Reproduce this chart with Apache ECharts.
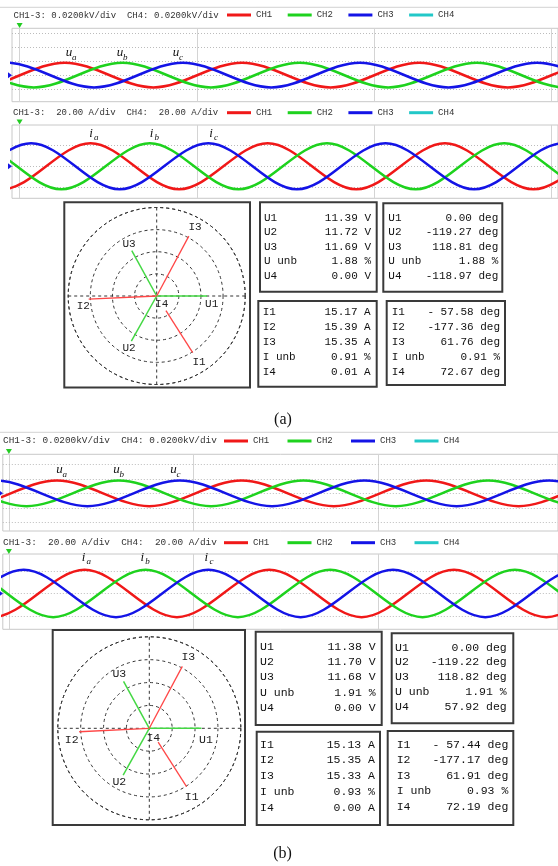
<!DOCTYPE html>
<html>
<head>
<meta charset="utf-8">
<script src="https://cdn.jsdelivr.net/npm/echarts@6/dist/echarts.min.js"></script>
<style>
html, body { margin: 0; padding: 0; background: #fff; }
#main { width: 558px; height: 866px; }
</style>
</head>
<body>
<div id="main"></div>
<script>
// time in ms (one vertical division = 20 ms), voltage in V, current in A
// waveforms are given by their peaks/troughs

// (a) voltage
const uaA = [[-14.9, 17.8], [-4.9, -17.8], [5.1, 17.8], [15.1, -17.8], [25.1, 17.8], [35.1, -17.8], [45.1, 17.8], [55.1, -17.8], [65.1, 17.8], [75.1, -17.8]];
const ubA = [[-18.4, -17.8], [-8.4, 17.8], [1.6, -17.8], [11.6, 17.8], [21.6, -17.8], [31.6, 17.8], [41.6, -17.8], [51.6, 17.8], [61.6, -17.8], [71.6, 17.8]];
const ucA = [[-11.6, -17.8], [-1.6, 17.8], [8.4, -17.8], [18.4, 17.8], [28.4, -17.8], [38.4, 17.8], [48.4, -17.8], [58.4, 17.8], [68.4, -17.8], [78.4, 17.8]];
// (a) current
const iaA = [[-12, 21.5], [-2, -21.5], [8, 21.5], [18, -21.5], [28, 21.5], [38, -21.5], [48, 21.5], [58, -21.5], [68, 21.5], [78, -21.5]];
const ibA = [[-15.3, -21.5], [-5.3, 21.5], [4.7, -21.5], [14.7, 21.5], [24.7, -21.5], [34.7, 21.5], [44.7, -21.5], [54.7, 21.5], [64.7, -21.5], [74.7, 21.5]];
const icA = [[-18.7, 21.5], [-8.7, -21.5], [1.3, 21.5], [11.3, -21.5], [21.3, 21.5], [31.3, -21.5], [41.3, 21.5], [51.3, -21.5], [61.3, 21.5], [71.3, -21.5]];
// (b) voltage
const uaB = [[-14.8, 17.7], [-4.8, -17.7], [5.2, 17.7], [15.2, -17.7], [25.2, 17.7], [35.2, -17.7], [45.2, 17.7], [55.2, -17.7], [65.2, 17.7], [75.2, -17.7]];
const ubB = [[-18.1, -17.7], [-8.1, 17.7], [1.9, -17.7], [11.9, 17.7], [21.9, -17.7], [31.9, 17.7], [41.9, -17.7], [51.9, 17.7], [61.9, -17.7], [71.9, 17.7]];
const ucB = [[-11.5, -17.7], [-1.5, 17.7], [8.5, -17.7], [18.5, 17.7], [28.5, -17.7], [38.5, 17.7], [48.5, -17.7], [58.5, 17.7], [68.5, -17.7], [78.5, 17.7]];
// (b) current
const iaB = [[-11.8, 21.2], [-1.8, -21.2], [8.2, 21.2], [18.2, -21.2], [28.2, 21.2], [38.2, -21.2], [48.2, 21.2], [58.2, -21.2], [68.2, 21.2], [78.2, -21.2]];
const ibB = [[-15.2, -21.2], [-5.2, 21.2], [4.8, -21.2], [14.8, 21.2], [24.8, -21.2], [34.8, 21.2], [44.8, -21.2], [54.8, 21.2], [64.8, -21.2], [74.8, 21.2]];
const icB = [[-18.4, 21.2], [-8.4, -21.2], [1.6, 21.2], [11.6, -21.2], [21.6, 21.2], [31.6, -21.2], [41.6, 21.2], [51.6, -21.2], [61.6, 21.2], [71.6, -21.2]];

const channels = ['CH1', 'CH2', 'CH3', 'CH4'];
const voltTitle = 'CH1-3: 0.0200kV/div  CH4: 0.0200kV/div';
const currTitle = 'CH1-3:  20.00 A/div  CH4:  20.00 A/div';
const timeDivs = [0, 20, 40, 60];
const voltDivs = [-40, -20, 0, 20, 40, 60];
const currDivs = [-20, 0, 20];

// phasor / table values
const uRows = ['U1', 'U2', 'U3', 'U unb', 'U4'];
const iRows = ['I1', 'I2', 'I3', 'I unb', 'I4'];

const aUrms = [11.39, 11.72, 11.69];
const aUang = [0.00, -119.27, 118.81];
const aUunb = 1.88, aU4rms = 0.00, aU4ang = -118.97;
const aIrms = [15.17, 15.39, 15.35];
const aIang = [-57.58, -177.36, 61.76];
const aIunb = 0.91, aI4rms = 0.01, aI4ang = 72.67;
const aIstart = [3.9, 0, 0];   // I1 is only drawn from a small radius outwards

const bUrms = [11.38, 11.70, 11.68];
const bUang = [0.00, -119.22, 118.82];
const bUunb = 1.91, bU4rms = 0.00, bU4ang = 57.92;
const bIrms = [15.13, 15.35, 15.33];
const bIang = [-57.44, -177.17, 61.91];
const bIunb = 0.93, bI4rms = 0.00, bI4ang = 72.19;
const bIstart = [3.6, 0, 0];

const RED = '#f01818', GREEN = '#1ed21e', BLUE = '#1414e6', CYAN = '#22c8c8';
const MONO = '"Liberation Mono", "DejaVu Sans Mono", monospace';
const SERIF = '"Liberation Serif", "DejaVu Serif", serif';

const chart = echarts.init(document.getElementById('main'));

function wave(name, data, color, idx, marks) {
    const s = {
        name: name, type: 'line', xAxisIndex: idx, yAxisIndex: idx,
        data: data, smooth: 0.333, symbol: 'none', silent: true, z: 3,
        itemStyle: { color: color }, lineStyle: { color: color, width: 2.5 }
    };
    if (marks) {
        s.markLine = {
            silent: true, symbol: ['none', 'none'], label: { show: false }, z: 1, animation: false,
            data: marks[0].map(t => ({ xAxis: t, lineStyle: { color: '#d4d4d4', type: 'solid', width: 1 } }))
                .concat(marks[1].map(v => ({ yAxis: v, lineStyle: { color: '#bcbcbc', type: [1, 2], width: 1 } })))
        };
    }
    return s;
}

function deg(v) {
    return (v < 0 ? '-' + Math.abs(v).toFixed(2).padStart(6, ' ') : v.toFixed(2)) + ' deg';
}

function phasors(pi, Urms, Uang, Irms, Iang, Istart) {
    const out = [];
    for (let k = 0; k < 3; k++) {
        out.push({ name: uRows[k], type: 'line', coordinateSystem: 'polar', polarIndex: pi, symbol: 'none', silent: true, z: 4,
            data: [[0, Uang[k]], [Urms[k], Uang[k]]], lineStyle: { color: '#44d844', width: 1.5 } });
        out.push({ name: iRows[k], type: 'line', coordinateSystem: 'polar', polarIndex: pi, symbol: 'none', silent: true, z: 4,
            data: [[Istart[k], Iang[k]], [Irms[k], Iang[k]]], lineStyle: { color: '#ff4646', width: 1.3 } });
    }
    return out;
}

// ---- graphic helpers ----
const g = [];
function text(x, y, str, font, align, color) {
    g.push({ type: 'text', silent: true, z: 10,
        style: { x: x, y: y, text: str, font: font, fill: color || '#222', textAlign: align || 'left', textVerticalAlign: 'middle' } });
}
function box(x0, y0, x1, y1) {
    g.push({ type: 'rect', silent: true, z: 10, shape: { x: x0, y: y0, width: x1 - x0, height: y1 - y0 },
        style: { fill: 'transparent', stroke: '#3a3a3a', lineWidth: 2 } });
}
function hline(y, color) {
    g.push({ type: 'line', silent: true, z: 10, shape: { x1: 0, y1: y, x2: 558, y2: y }, style: { stroke: color, lineWidth: 1 } });
}
function trigger(x, y) {   // green trigger marker above a trace box
    g.push({ type: 'polygon', silent: true, z: 10, shape: { points: [[x - 3, y - 4], [x + 3, y - 4], [x, y + 1]] }, style: { fill: '#22cc22' } });
}
function zeroMark(x, y) {  // blue channel zero marker at the left edge
    g.push({ type: 'polygon', silent: true, z: 10, shape: { points: [[x - 4, y - 3], [x - 4, y + 3], [x, y]] }, style: { fill: BLUE } });
}
function traceLabel(letter, sub, x, y) {
    text(x, y, letter, 'italic 13px ' + SERIF, 'center', '#111');
    text(x + 3, y + 4.5, sub, 'italic 9px ' + SERIF, 'left', '#111');
}
function table(x0, y0, x1, y1, lx, rx, ry, step, labels, values, fs) {
    box(x0, y0, x1, y1);
    for (let k = 0; k < labels.length; k++) {
        text(lx, ry + k * step, labels[k], fs + 'px ' + MONO, 'left', '#111');
        text(rx, ry + k * step, values[k], fs + 'px ' + MONO, 'right', '#111');
    }
}

// ---- panel (a) ----
hline(7.3, '#d2d2d2');
text(13.5, 15.5, voltTitle, '9px ' + MONO, 'left', '#333');
text(13, 113, currTitle, '9px ' + MONO, 'left', '#333');
trigger(19.6, 27); trigger(19.6, 123.5);
zeroMark(12, 75.2); zeroMark(12, 166.3);
['a', 'b', 'c'].forEach((s, k) => traceLabel('u', s, [69, 120, 176][k], 53));
['a', 'b', 'c'].forEach((s, k) => traceLabel('i', s, [91, 151.5, 211][k], 133.5));

box(64.3, 202.3, 250, 387.5);
[['I3', 195, 226.7], ['U3', 129, 244.3], ['I2', 83.3, 306], ['I4', 161.7, 304.3], ['U1', 211.7, 304.3], ['U2', 129, 347.7], ['I1', 199, 362.3]]
    .forEach(l => text(l[1], l[2], l[0], '11px ' + MONO, 'center', '#222'));

table(260, 202.3, 376.7, 291.7, 264, 371, 217.7, 14.6, uRows,
    aUrms.map(v => v.toFixed(2) + ' V').concat([aUunb.toFixed(2) + ' %', aU4rms.toFixed(2) + ' V']), 11);
table(383.3, 203.3, 502.3, 291.7, 388.3, 498.3, 217.7, 14.6, uRows,
    aUang.map(deg).concat([aUunb.toFixed(2) + ' %', deg(aU4ang)]), 11);
table(258.3, 301, 376.7, 386.7, 262.7, 370.7, 312.3, 14.85, iRows,
    aIrms.map(v => v.toFixed(2) + ' A').concat([aIunb.toFixed(2) + ' %', aI4rms.toFixed(2) + ' A']), 11);
table(386.7, 301, 505, 385, 391.7, 500, 312.3, 14.85, iRows,
    aIang.map(deg).concat([aIunb.toFixed(2) + ' %', deg(aI4ang)]), 11);
text(283, 420, '(a)', '16px ' + SERIF, 'center', '#111');

// ---- panel (b) ----
hline(432.3, '#d2d2d2');
text(3, 441, voltTitle, '9.4px ' + MONO, 'left', '#333');
text(3, 542.7, currTitle, '9.4px ' + MONO, 'left', '#333');
trigger(8.9, 453); trigger(8.9, 553);
zeroMark(3, 493.3); zeroMark(3, 593.5);
['a', 'b', 'c'].forEach((s, k) => traceLabel('u', s, [59.5, 116.5, 173.5][k], 470));
['a', 'b', 'c'].forEach((s, k) => traceLabel('i', s, [83.6, 142.3, 206.4][k], 557.5));

box(52.7, 630, 245, 825);
[['I3', 188.3, 656.7], ['U3', 119.3, 674.3], ['I2', 71.7, 740], ['I4', 153.3, 737.7], ['U1', 206, 740], ['U2', 119.3, 781.7], ['I1', 191.7, 796.7]]
    .forEach(l => text(l[1], l[2], l[0], '11.5px ' + MONO, 'center', '#222'));

table(255.7, 631.7, 381.7, 725, 260, 375.7, 647, 15.2, uRows,
    bUrms.map(v => v.toFixed(2) + ' V').concat([bUunb.toFixed(2) + ' %', bU4rms.toFixed(2) + ' V']), 11.5);
table(391.7, 633.3, 513.3, 723.3, 395, 506.7, 647.5, 14.8, uRows,
    bUang.map(deg).concat([bUunb.toFixed(2) + ' %', deg(bU4ang)]), 11.5);
table(256.7, 731.7, 380, 825, 260, 375, 744.5, 15.9, iRows,
    bIrms.map(v => v.toFixed(2) + ' A').concat([bIunb.toFixed(2) + ' %', bI4rms.toFixed(2) + ' A']), 11.5);
table(387.7, 731, 513.3, 825, 396.7, 508.3, 744.5, 15.6, iRows,
    bIang.map(deg).concat([bIunb.toFixed(2) + ' %', deg(bI4ang)]), 11.5);
text(282.5, 854, '(b)', '16px ' + SERIF, 'center', '#111');

// ---- axes ----
const gridBase = { show: true, right: -1, backgroundColor: '#fff', borderColor: '#c8c8c8', borderWidth: 1 };
const hidden = { axisLine: { show: false }, axisTick: { show: false }, axisLabel: { show: false }, splitLine: { show: false } };

function legendAt(left, top, gap) {
    return { left: left, top: top, padding: 0, itemWidth: 24, itemHeight: 3, itemGap: gap, icon: 'rect',
        selectedMode: false, data: channels,
        textStyle: { fontSize: 9, fontFamily: MONO, color: '#333', lineHeight: 10 } };
}

function polarAxes(pi) {
    const dash = { color: '#333', type: [3, 3], width: 1 };
    return [
        { polarIndex: pi, type: 'value', min: -180, max: 180, interval: 90, startAngle: 180, clockwise: false,
          axisLine: { show: true, lineStyle: dash }, axisTick: { show: false }, axisLabel: { show: false },
          splitLine: { show: true, lineStyle: dash } },
        { polarIndex: pi, type: 'value', min: 0, max: 20, interval: 5,
          axisLine: { show: false }, axisTick: { show: false }, axisLabel: { show: false },
          splitLine: { show: true, lineStyle: dash } }
    ];
}
const pa = polarAxes(0), pb = polarAxes(1);

const option = {
    backgroundColor: '#fff',
    animation: false,
    legend: [legendAt(227, 10, 15.5), legendAt(227, 107.7, 15.5), legendAt(224, 436, 18.3), legendAt(224, 537.7, 18.3)],
    grid: [
        Object.assign({ left: 12, top: 28.3, height: 73.4 }, gridBase),
        Object.assign({ left: 12, top: 125, height: 73.3 }, gridBase),
        Object.assign({ left: 2.8, top: 454.3, height: 76.7 }, gridBase),
        Object.assign({ left: 2.8, top: 554, height: 75.3 }, gridBase)
    ],
    xAxis: [
        Object.assign({ type: 'value', gridIndex: 0, min: -0.86, max: 60.77 }, hidden),
        Object.assign({ type: 'value', gridIndex: 1, min: -0.86, max: 60.77 }, hidden),
        Object.assign({ type: 'value', gridIndex: 2, min: -0.66, max: 59.47 }, hidden),
        Object.assign({ type: 'value', gridIndex: 3, min: -0.66, max: 59.47 }, hidden)
    ],
    yAxis: [
        Object.assign({ type: 'value', gridIndex: 0, min: -38.4, max: 67.2 }, hidden),
        Object.assign({ type: 'value', gridIndex: 1, min: -29.9, max: 38.6 }, hidden),
        Object.assign({ type: 'value', gridIndex: 2, min: -52, max: 53.8 }, hidden),
        Object.assign({ type: 'value', gridIndex: 3, min: -32.1, max: 35.4 }, hidden)
    ],
    polar: [
        { center: [156.7, 296], radius: 88.5 },
        { center: [149.3, 728.3], radius: 91.5 }
    ],
    angleAxis: [pa[0], pb[0]],
    radiusAxis: [pa[1], pb[1]],
    series: [
        wave('CH1', uaA, RED, 0, [timeDivs, voltDivs]),
        wave('CH2', ubA, GREEN, 0), wave('CH3', ucA, BLUE, 0),
        { name: 'CH4', type: 'line', xAxisIndex: 0, yAxisIndex: 0, data: [], symbol: 'none',
          itemStyle: { color: CYAN }, lineStyle: { color: CYAN, width: 2.5 } },
        wave('CH1', iaA, RED, 1, [timeDivs, currDivs]),
        wave('CH2', ibA, GREEN, 1), wave('CH3', icA, BLUE, 1),
        wave('CH1', uaB, RED, 2, [timeDivs.slice(0, 3), voltDivs.slice(0, 5)]),
        wave('CH2', ubB, GREEN, 2), wave('CH3', ucB, BLUE, 2),
        wave('CH1', iaB, RED, 3, [timeDivs.slice(0, 3), currDivs]),
        wave('CH2', ibB, GREEN, 3), wave('CH3', icB, BLUE, 3)
    ].concat(phasors(0, aUrms, aUang, aIrms, aIang, aIstart))
     .concat(phasors(1, bUrms, bUang, bIrms, bIang, bIstart)),
    graphic: { elements: g }
};

chart.setOption(option);
</script>
</body>
</html>
